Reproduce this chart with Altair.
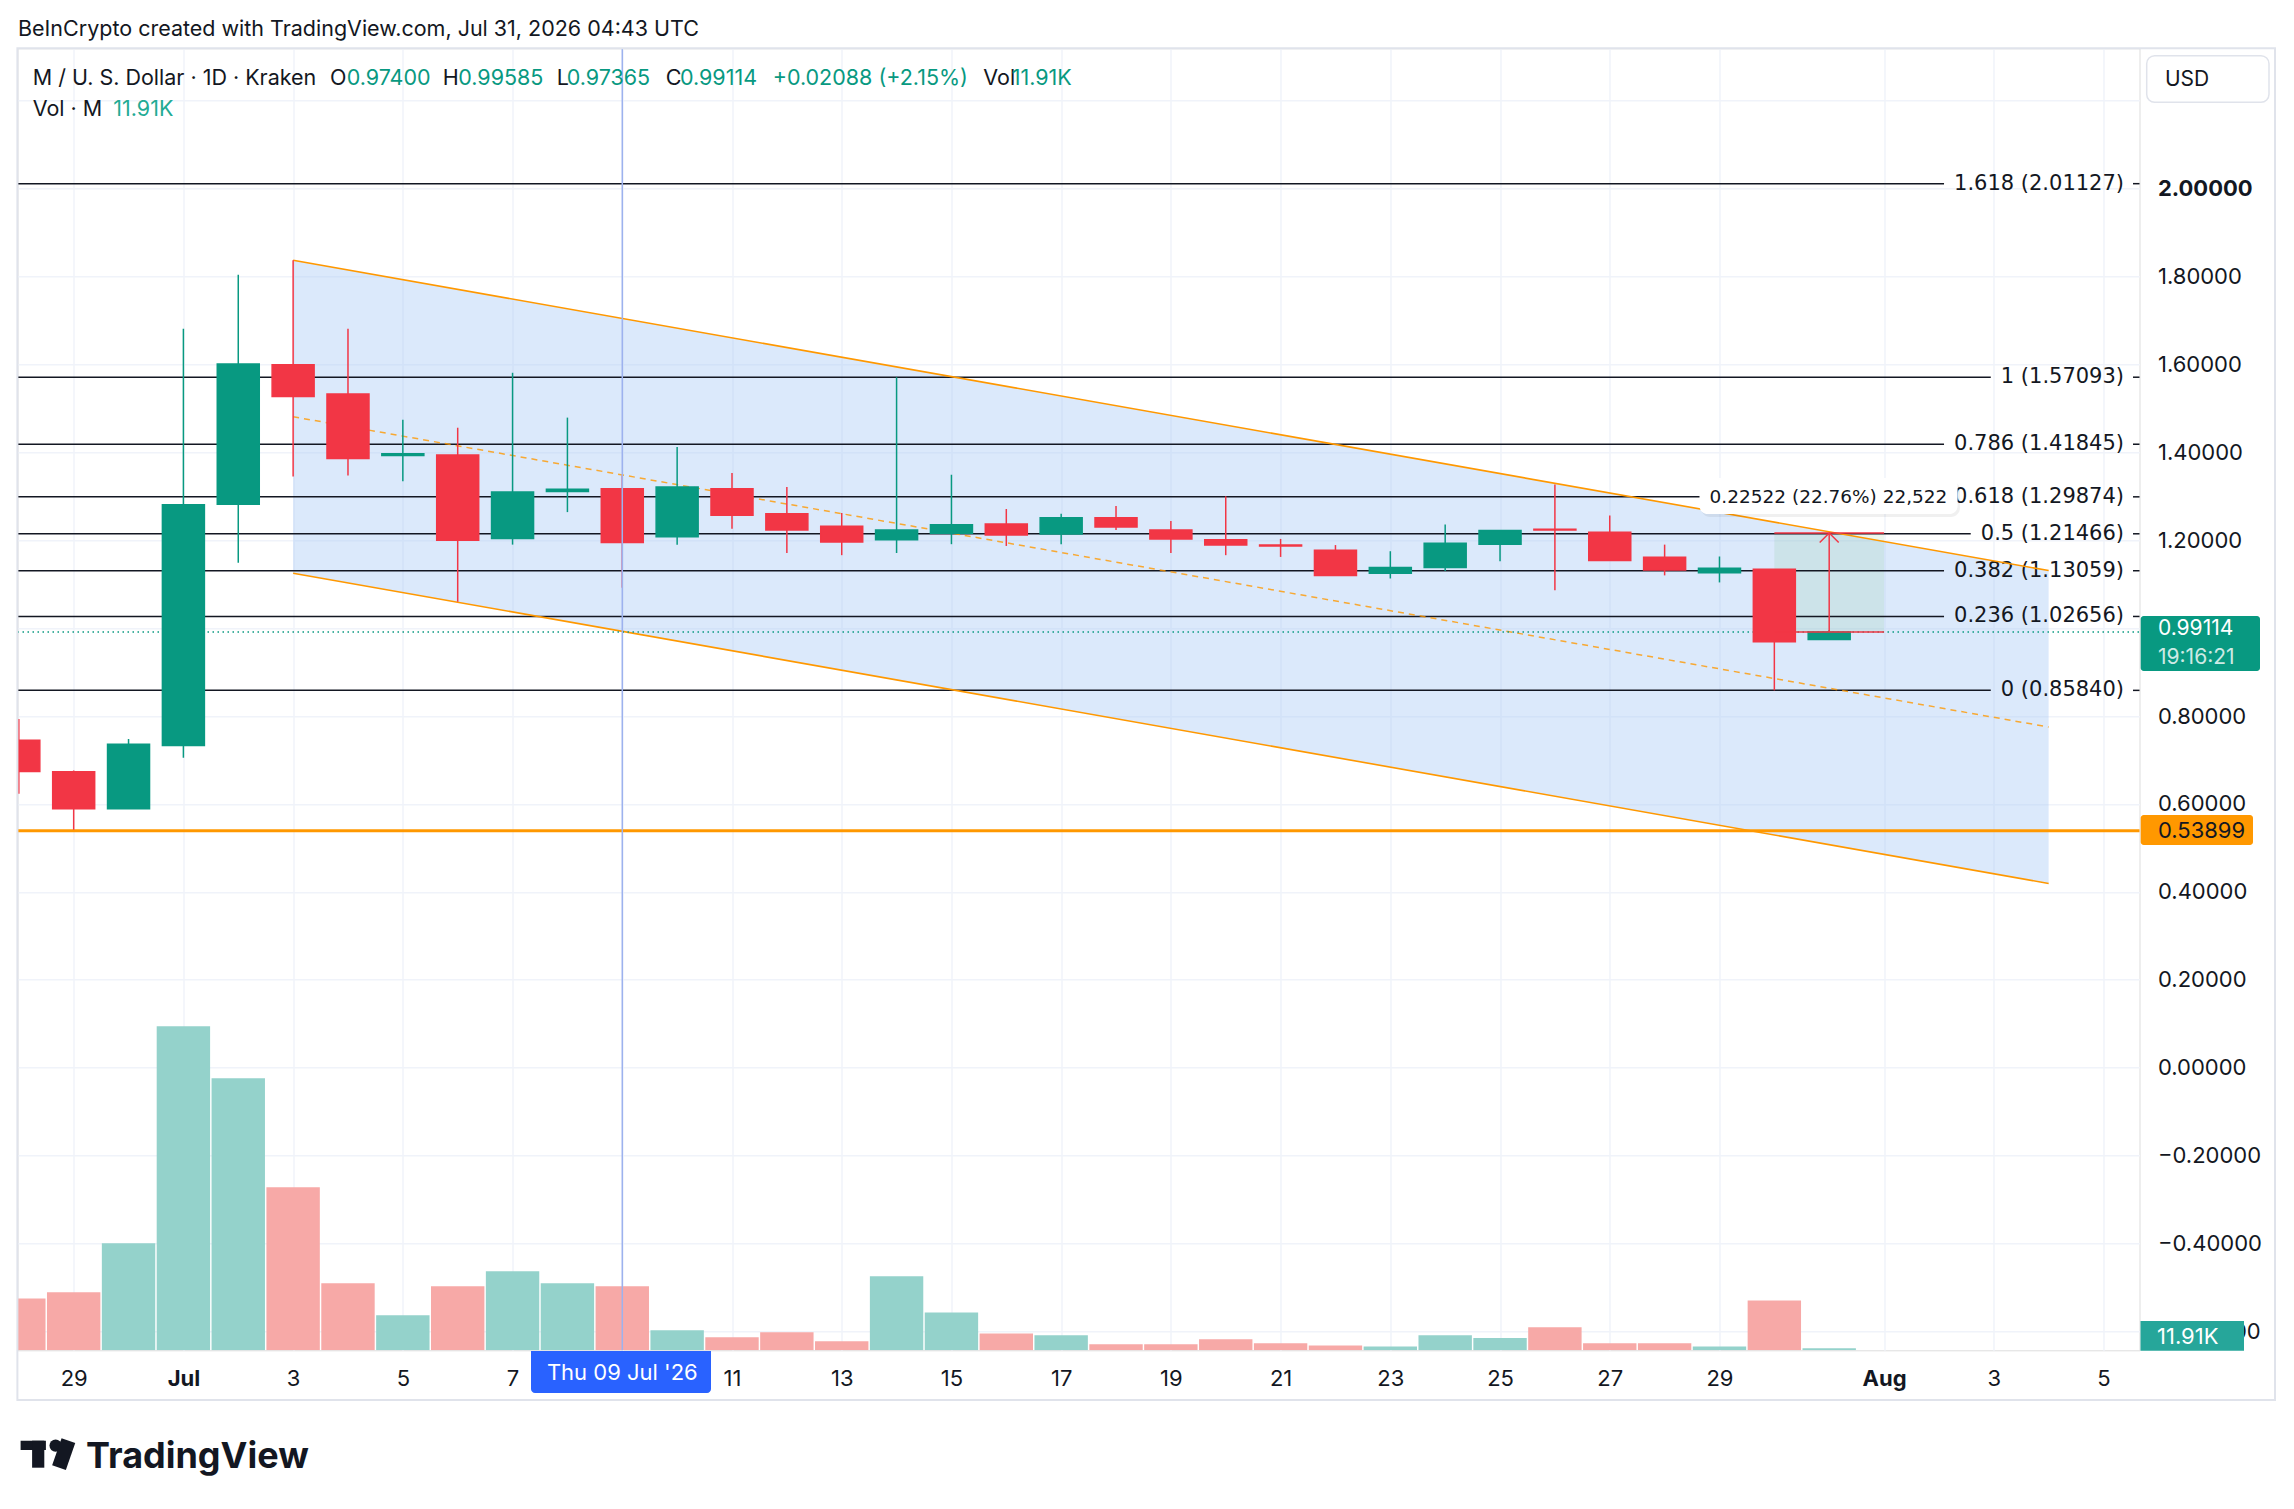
import altair as alt
import pandas as pd

# ---------------- data ----------------
dates = [d.strftime("%Y-%m-%d") for d in pd.date_range("2026-06-28", "2026-07-31", freq="D")]
opens = [0.745, 0.673, 0.589, 0.733, 1.282, 1.599, 1.533, 1.393, 1.394, 1.204, 1.311, 1.317,
         1.208, 1.317, 1.260, 1.232, 1.201, 1.216, 1.237, 1.214, 1.251, 1.223, 1.201, 1.189,
         1.177, 1.125, 1.138, 1.191, 1.225, 1.218, 1.161, 1.126, 1.134, 0.97400]
highs = [0.793, 0.676, 0.748, 1.681, 1.804, 1.837, 1.681, 1.474, 1.456, 1.581, 1.479, 1.347,
         1.412, 1.353, 1.321, 1.262, 1.57093, 1.349, 1.271, 1.260, 1.278, 1.244, 1.300, 1.203,
         1.189, 1.175, 1.236, 1.222, 1.327, 1.256, 1.190, 1.163, 1.134, 0.99585]
lows = [0.623, 0.541, 0.589, 0.705, 1.149, 1.345, 1.347, 1.334, 1.060, 1.190, 1.264, 1.092,
        1.190, 1.226, 1.171, 1.166, 1.171, 1.191, 1.187, 1.191, 1.223, 1.171, 1.166, 1.162,
        1.120, 1.113, 1.130, 1.152, 1.086, 1.154, 1.120, 1.104, 0.85840, 0.97365]
closes = [0.674, 0.589, 0.736, 1.281, 1.601, 1.527, 1.386, 1.397, 1.200, 1.310, 1.316, 1.195,
          1.321, 1.257, 1.223, 1.196, 1.223, 1.235, 1.212, 1.251, 1.230, 1.203, 1.189, 1.187,
          1.120, 1.138, 1.193, 1.222, 1.223, 1.154, 1.132, 1.136, 0.969, 0.99114]
volumes_k = [312, 349, 644, 1950, 1638, 981, 404, 211, 386, 476, 404, 386,
             121, 78, 109, 55, 445, 228, 101, 90, 37, 37, 66, 43,
             29, 23, 90, 74, 138, 43, 43, 23, 300, 11.91]

fib_ratios = ["1.618", "1", "0.786", "0.618", "0.5", "0.382", "0.236", "0"]
fib_prices = [2.01127, 1.57093, 1.41845, 1.29874, 1.21466, 1.13059, 1.02656, 0.85840]

channel_dates = ["2026-07-03", "2026-08-04"]
channel_upper = [1.837, 1.131]
channel_lower = [1.125, 0.419]
channel_mid = [1.481, 0.775]

support_price = 0.53899
last_price = 0.99114
countdown = "19:16:21"
last_volume = "11.91K"

measure_dates = ["2026-07-30", "2026-08-01"]
measure_tip_date = "2026-07-31"
measure_low = 0.99114
measure_high = 1.21636
measure_label = "0.22522 (22.76%) 22,522"

crosshair_date = "2026-07-09"
crosshair_label = "Thu 09 Jul '26"

x_tick_dates = ["2026-06-29", "2026-07-01", "2026-07-03", "2026-07-05", "2026-07-07", "2026-07-09",
                "2026-07-11", "2026-07-13", "2026-07-15", "2026-07-17", "2026-07-19", "2026-07-21",
                "2026-07-23", "2026-07-25", "2026-07-27", "2026-07-29", "2026-08-01", "2026-08-03",
                "2026-08-05"]
y_ticks = [-0.6, -0.4, -0.2, 0.0, 0.2, 0.4, 0.6, 0.8, 1.0, 1.2, 1.4, 1.6, 1.8, 2.0, 2.2]

header = "BeInCrypto created with TradingView.com, Jul 31, 2026 04:43 UTC"
legend_parts = [("M / U. S. Dollar · 1D · Kraken", "dark", 32.7), ("O", "dark", 330), ("0.97400", "up", 346.7),
                ("H", "dark", 442.7), ("0.99585", "up", 458.3), ("L", "dark", 556.7), ("0.97365", "up", 566.7),
                ("C", "dark", 665.7), ("0.99114", "up", 680), ("+0.02088 (+2.15%)", "up", 772.7),
                ("Vol", "dark", 983.3), ("11.91K", "up", 1011.7)]

# ---------------- styling / layout ----------------
GREEN = "#089981"
RED = "#f23645"
VGREEN = "#94d2cb"
VRED = "#f7a9a7"
ORANGE = "#ff9800"
DARK = "#131722"
GRID = "#f0f3fa"
FONT = "Inter"
FIBFONT = "DejaVu Sans"

W, H = 2122, 1302          # plot area
X0, Y0 = 17.5, 48.3        # page position of plot origin
DAY_PX = 54.86
JUL1_PAGE_X = 183.4
P_TOP, PX_PER_UNIT = 2.3193, 439.5


def ms(d):
    return int(pd.Timestamp(d, tz="UTC").value // 10**6)


def px(x):
    return x - X0


def py(y):
    return y - Y0


DAY_MS = 86400000
x_start = ms("2026-07-01") - (JUL1_PAGE_X - X0) / DAY_PX * DAY_MS
x_end = x_start + W / DAY_PX * DAY_MS
xscale = alt.Scale(type="utc", domain=[x_start, x_end], padding=0)
yscale = alt.Scale(domain=[P_TOP - H / PX_PER_UNIT, P_TOP], nice=False, zero=False, padding=0)

xaxis = alt.Axis(
    values=[ms(d) for d in x_tick_dates], title=None, grid=True, gridColor=GRID, gridWidth=1.5,
    domain=False, ticks=False, tickSize=0, labelPadding=28, labelBaseline="middle",
    labelFont=FONT, labelFontSize=22, labelColor=DARK, labelAngle=0, labelOverlap=False,
    labelFlush=False,
    labelExpr="utcdate(datum.value) == 1 ? utcFormat(datum.value, '%b') : "
              "((utcdate(datum.value) == 9 && utcmonth(datum.value) == 6) ? '' : '' + utcdate(datum.value))",
    labelFontWeight=alt.condition("utcdate(datum.value) == 1", alt.value("bold"), alt.value("normal")),
)
# labels at 2.2 and 1.0 sit under the USD / last-price boxes and are not shown
yaxis = alt.Axis(
    orient="right", values=y_ticks, format=".5f", title=None, grid=True, gridColor=GRID,
    gridWidth=1.5, domain=False, ticks=False, tickSize=0, labelPadding=18, labelFont=FONT,
    labelFontSize=22, labelColor=DARK, labelOverlap=False, labelFlush=False,
    labelExpr="(datum.value > 2.1 || abs(datum.value - 1) < 0.01) ? '' : datum.label",
    labelFontWeight=alt.condition("datum.value == 2", alt.value("bold"), alt.value("normal")),
)


def X(field):
    return alt.X(field, type="temporal", scale=xscale, axis=xaxis)


def Y(field):
    return alt.Y(field, type="quantitative", scale=yscale, axis=yaxis)


candles = pd.DataFrame({"date": dates, "open": opens, "high": highs, "low": lows,
                        "close": closes, "vol": volumes_k})
up = candles["close"] >= candles["open"]
candles["color"] = [GREEN if u else RED for u in up]
candles["vcolor"] = [VGREEN if u else VRED for u in up]

chan = pd.DataFrame({"date": channel_dates, "upper": channel_upper, "lower": channel_lower,
                     "mid": channel_mid})
fib = pd.DataFrame({"ratio": fib_ratios, "price": fib_prices})
fib["label"] = [f"{r} ({p:.5f})" for r, p in zip(fib_ratios, fib_prices)]
meas = pd.DataFrame({"start": [measure_dates[0]], "end": [measure_dates[1]], "tip": [measure_tip_date],
                     "low": [measure_low], "high": [measure_high]})
one = pd.DataFrame({"k": [0]})

FIB_SIZE = 21


def est_width(s, size=FIB_SIZE):
    w = 0.0
    for ch in s:
        if ch.isdigit():
            w += 0.636
        elif ch in ". ":
            w += 0.318
        elif ch in "()":
            w += 0.39
        else:
            w += 0.6
    return w * size


def txt(s, x, y, color=DARK, size=21, weight="normal", align="left", baseline="alphabetic", opacity=1,
        font=FONT):
    return alt.Chart(one).mark_text(text=s, color=color, fontSize=size, fontWeight=weight, align=align,
                                    baseline=baseline, font=font, opacity=opacity).encode(
        x=alt.value(x), y=alt.value(y))


def box(x1, x2, y1, y2, **kw):
    return alt.Chart(one).mark_rect(**kw).encode(x=alt.value(x1), x2=alt.value(x2),
                                                 y=alt.value(y1), y2=alt.value(y2))


layers = []
# channel fill
layers.append(alt.Chart(chan).mark_area(color="#a6c8f5", opacity=0.4, clip=True).encode(
    x=X("date"), y=Y("upper"), y2="lower"))
# measure rect fill
layers.append(alt.Chart(meas).mark_rect(color="#4caf50", opacity=0.1).encode(
    x=X("start"), x2="end", y=Y("low"), y2="high"))

# fib lines + labels
LABEL_RIGHT = px(2124)
for i in range(len(fib)):
    row = fib.iloc[[i]]
    end_x = LABEL_RIGHT - est_width(row["label"].iloc[0]) - 10
    layers.append(alt.Chart(row).mark_rule(color=DARK, strokeWidth=1.5).encode(
        x=alt.value(0), x2=alt.value(end_x), y=Y("price")))
layers.append(alt.Chart(fib).mark_rule(color=DARK, strokeWidth=1.5).encode(
    x=alt.value(px(2133)), x2=alt.value(W), y=Y("price")))
layers.append(alt.Chart(fib).mark_text(align="right", baseline="middle", font=FIBFONT, fontSize=FIB_SIZE,
                                       color=DARK).encode(x=alt.value(LABEL_RIGHT), y=Y("price"),
                                                          text="label:N"))

# channel lines
layers.append(alt.Chart(chan).mark_line(color=ORANGE, strokeWidth=1.6).encode(x=X("date"), y=Y("upper")))
layers.append(alt.Chart(chan).mark_line(color=ORANGE, strokeWidth=1.6).encode(x=X("date"), y=Y("lower")))
layers.append(alt.Chart(chan).mark_line(color=ORANGE, strokeWidth=1.5, strokeDash=[6, 5], opacity=0.8).encode(
    x=X("date"), y=Y("mid")))

# horizontal price lines
layers.append(alt.Chart(pd.DataFrame({"p": [last_price]})).mark_rule(
    color=GREEN, strokeWidth=1.5, strokeDash=[1.5, 3.5]).encode(x=alt.value(0), x2=alt.value(W), y=Y("p")))
layers.append(alt.Chart(pd.DataFrame({"p": [support_price]})).mark_rule(
    color=ORANGE, strokeWidth=3).encode(x=alt.value(0), x2=alt.value(W), y=Y("p")))

# candles
layers.append(alt.Chart(candles).mark_rule(strokeWidth=1.5, clip=True).encode(
    x=X("date"), y=Y("low"), y2="high", color=alt.Color("color:N", scale=None)))
layers.append(alt.Chart(candles).mark_bar(width=42, strokeWidth=1.5, clip=True).encode(
    x=X("date"), y=Y("open"), y2="close", color=alt.Color("color:N", scale=None),
    stroke=alt.Color("color:N", scale=None)))

# measure lines and arrow
layers.append(alt.Chart(meas).mark_rule(color=RED, strokeWidth=1.5).encode(x=X("start"), x2="end", y=Y("high")))
layers.append(alt.Chart(meas).mark_rule(color=RED, strokeWidth=1.5).encode(x=X("start"), x2="end", y=Y("low")))
layers.append(alt.Chart(meas).mark_rule(color=RED, strokeWidth=1.5).encode(x=X("tip"), y=Y("low"), y2="high"))
layers.append(alt.Chart(meas).mark_point(shape="M -1 1 L 0 0 L 1 1", filled=False, color=RED,
                                         strokeWidth=1.5, size=361, opacity=1).encode(x=X("tip"), y=Y("high")))

# crosshair
layers.append(alt.Chart(pd.DataFrame({"d": [crosshair_date]})).mark_rule(color="#9db2ee", strokeWidth=1.5).encode(
    x=X("d"), y=alt.value(0), y2=alt.value(H)))

# measure tooltip
layers.append(box(px(1701), px(1960), py(481), py(517), color="#000000", opacity=0.06, cornerRadius=9))
layers.append(box(px(1699.5), px(1957.6), py(478), py(514), color="#ffffff", cornerRadius=8))
layers.append(txt(measure_label, px(1828.5), py(497), size=18.5, align="center", baseline="middle",
                  font=FIBFONT))

# right price-scale boxes
layers.append(box(px(2146.7), px(2269), py(55.7), py(102.3), color="#ffffff", stroke="#e0e3eb",
                  strokeWidth=1.5, cornerRadius=8))
layers.append(txt("USD", px(2165), py(85.7), size=21))
layers.append(box(px(2140.7), px(2260), py(616), py(671), color=GREEN, cornerRadius=3))
layers.append(txt(f"{last_price:.5f}", px(2158), py(629), color="#ffffff", size=21, baseline="middle"))
layers.append(txt(countdown, px(2158), py(658.5), color="#ffffff", size=21, baseline="middle", opacity=0.8))
layers.append(box(px(2140.7), px(2253), py(815), py(845), color=ORANGE, cornerRadius=3))
layers.append(txt(f"{support_price:.5f}", px(2158), py(831), color=DARK, size=22, baseline="middle"))
layers.append(box(px(2140.5), px(2244), py(1321), py(1350.7), color="#26a69a"))
layers.append(txt(last_volume, px(2157), py(1337), color="#ffffff", size=22, baseline="middle"))

# time-axis crosshair label
layers.append(box(px(531), px(711), py(1351), py(1393), color="#2962ff",
                  cornerRadiusBottomLeft=4, cornerRadiusBottomRight=4))
layers.append(txt(crosshair_label, px(622.3), py(1373), color="#ffffff", size=22, align="center",
                  baseline="middle"))

# frame
layers.append(box(px(17.4), px(2275), py(48.3), py(1400), fillOpacity=0, stroke="#e0e3eb", strokeWidth=2))

# header & legend
layers.append(txt(header, px(18), py(36), size=21.5))
for s, c, xpos in legend_parts:
    layers.append(txt(s, px(xpos), py(85), color=DARK if c == "dark" else GREEN, size=21.5))
layers.append(txt("Vol · M", px(32.7), py(116), size=21.5))
layers.append(txt(last_volume, px(113.3), py(116), color="#22ab94", size=21.5))

# TradingView logo
layers.append(box(px(20.6), px(45.9), py(1440.7), py(1450), color=DARK))
layers.append(box(px(32.1), px(44.3), py(1440.7), py(1467.7), color=DARK))
layers.append(alt.Chart(one).mark_point(shape="circle", filled=True, color=DARK, size=150, opacity=1).encode(
    x=alt.value(px(55.6)), y=alt.value(py(1445.6))))
layers.append(alt.Chart(one).mark_rule(color=DARK, strokeWidth=14.5).encode(
    x=alt.value(px(68.4)), x2=alt.value(px(59.0)), y=alt.value(py(1440.7)), y2=alt.value(py(1467.7))))
layers.append(txt("TradingView", px(86), py(1467.7), size=36, weight="bold"))

price = alt.layer(*layers)

volume = alt.Chart(candles).mark_bar(width=53.4, clip=True).encode(
    x=X("date"),
    y=alt.Y("vol:Q", scale=alt.Scale(domain=[0, 1950 * H / 324], nice=False), axis=None),
    color=alt.Color("vcolor:N", scale=None),
)

chart = alt.layer(volume, price).resolve_scale(y="independent").properties(
    width=W, height=H,
    autosize=alt.AutoSizeParams(type="none"),
    padding={"left": X0 - 8, "top": Y0 - 8, "right": 146.5, "bottom": 140},
).configure_view(strokeWidth=0).configure(background="#ffffff")

chart.save("out.html", embed_options={"renderer": "svg", "actions": False})
